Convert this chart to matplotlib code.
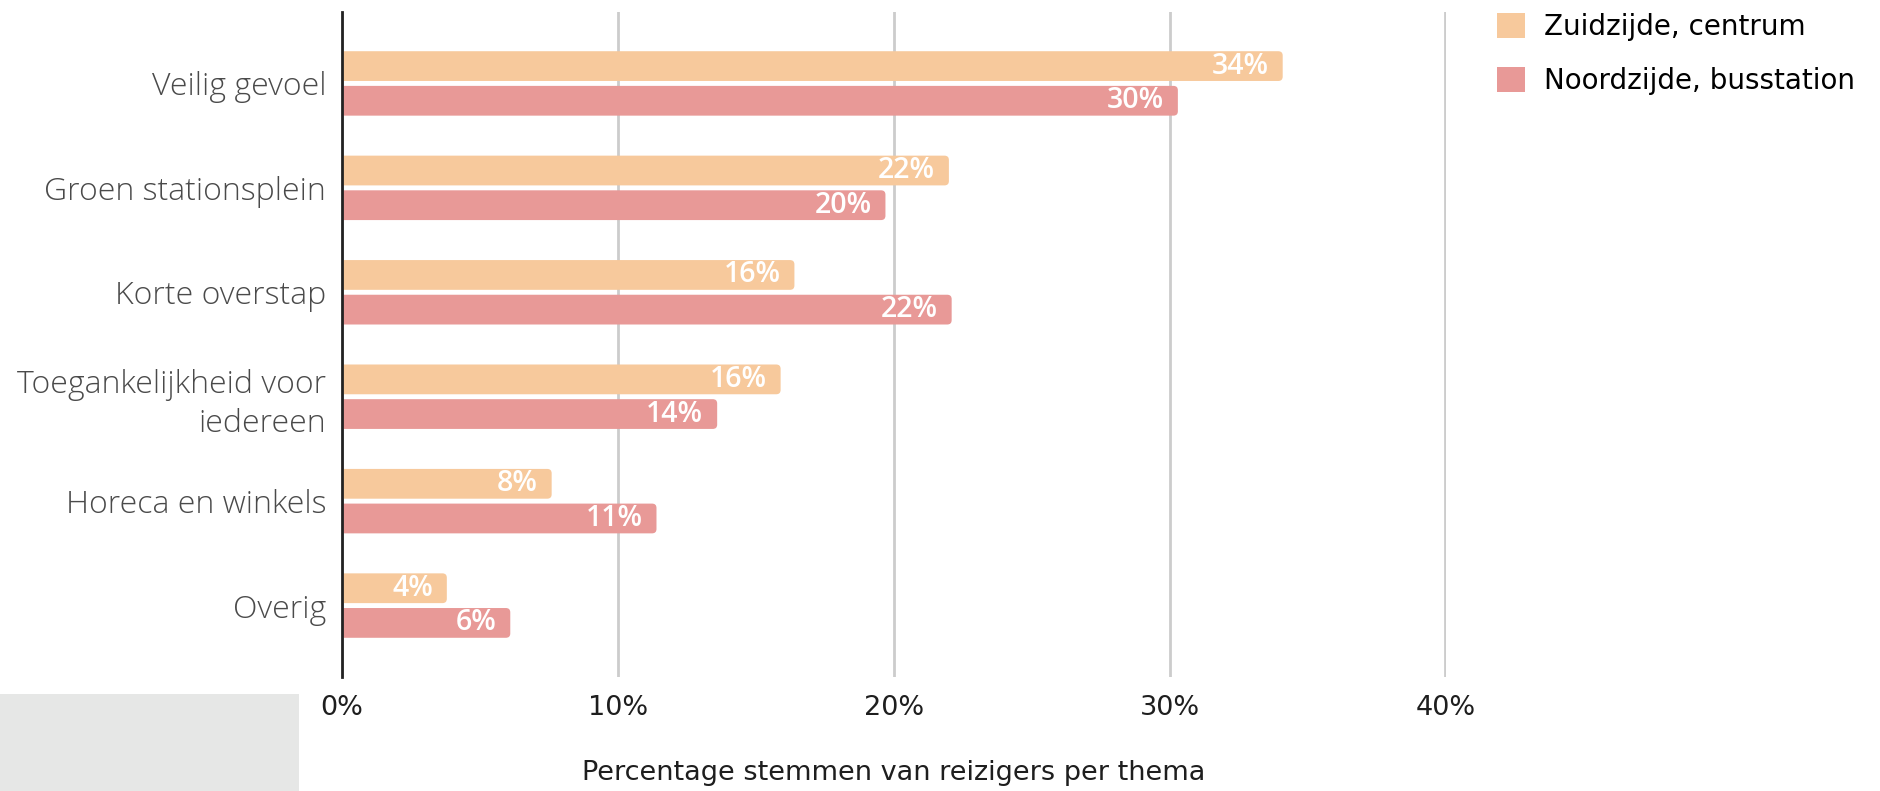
import matplotlib
matplotlib.use("Agg")
import matplotlib.pyplot as plt
import numpy as np
from matplotlib.patches import FancyBboxPatch, Rectangle

# Data
categories = ["Veilig gevoel", "Groen stationsplein", "Korte overstap",
              "Toegankelijkheid voor\niedereen", "Horeca en winkels", "Overig"]
series_names = ["Zuidzijde, centrum", "Noordzijde, busstation"]
zuid = [34.1, 22.0, 16.4, 15.9, 7.6, 3.8]
noord = [30.3, 19.7, 22.1, 13.6, 11.4, 6.1]
xticks = [0, 10, 20, 30, 40]
xlabel = "Percentage stemmen van reizigers per thema"

colors = ["#f7c99c", "#e89997"]

fig = plt.figure(figsize=(18.8, 7.91), dpi=100)
ax = fig.add_axes([342 / 1880, 1 - 677 / 791, (1446 - 342) / 1880, (677 - 12) / 791])

y = np.arange(len(categories))
h = 0.285
off = 0.166

def rounded_bars(bars, color):
    # replace plain rectangles with boxes rounded at the right end
    for b in bars:
        x0, y0 = b.get_x(), b.get_y()
        w, hh = b.get_width(), b.get_height()
        b.set_visible(False)
        p = FancyBboxPatch((x0 - 0.4, y0), w + 0.4, hh,
                           boxstyle="round,pad=0,rounding_size=0.16",
                           mutation_aspect=0.26, facecolor=color,
                           edgecolor="none", zorder=3)
        ax.add_patch(p)

b1 = ax.barh(y - off, zuid, height=h, color=colors[0], zorder=3)
b2 = ax.barh(y + off, noord, height=h, color=colors[1], zorder=3)
rounded_bars(b1, colors[0])
rounded_bars(b2, colors[1])

for vals, yy in ((zuid, y - off), (noord, y + off)):
    for v, yc in zip(vals, yy):
        ax.annotate(f"{v:.0f}%", xy=(v, yc), xytext=(-10, 0),
                    textcoords="offset points", ha="right", va="center",
                    color="white", fontsize=20.5, family="Open Sans",
                    fontweight="semibold", zorder=5)

ax.set_xlim(0, 40.02)
ax.set_ylim(len(categories) - 1 + 0.684, -0.684)
ax.set_xticks(xticks)
ax.set_xticklabels([f"{t}%" for t in xticks], fontsize=19.5, color="#1e1e1e",
                   family="DejaVu Sans")
ax.set_yticks(y)
ax.set_yticklabels(categories, fontsize=23, color="#4a4a4a",
                   family="Open Sans", fontweight="light", linespacing=1.3)
ax.tick_params(axis="both", length=0)
ax.tick_params(axis="x", pad=13)
ax.tick_params(axis="y", pad=11.5)

ax.grid(axis="x", color="#cccccc", linewidth=2, zorder=0)
ax.set_axisbelow(True)
for s in ("top", "right", "bottom"):
    ax.spines[s].set_visible(False)
ax.spines["left"].set_color("#222222")
ax.spines["left"].set_linewidth(2)
ax.spines["left"].set_zorder(6)

ax.set_xlabel(xlabel, fontsize=19.5, color="#1e1e1e", family="DejaVu Sans",
              labelpad=28)

# legend
handles = [Rectangle((0, 0), 1, 1, facecolor=c, edgecolor="none") for c in colors]
fig.legend(handles, series_names, loc="upper left",
           bbox_to_anchor=(1497 / 1880, 1 - 13 / 791),
           frameon=False, prop={"family": "DejaVu Sans", "size": 20},
           handlelength=1.0, handleheight=1.0, handletextpad=0.7,
           labelspacing=0.93, borderpad=0, borderaxespad=0)

# grey block at bottom-left
fig.patches.append(Rectangle((0, 0), 299 / 1880, 97 / 791, transform=fig.transFigure,
                             facecolor="#e6e7e6", edgecolor="none", zorder=0))

fig.savefig("out.png", dpi=100)
